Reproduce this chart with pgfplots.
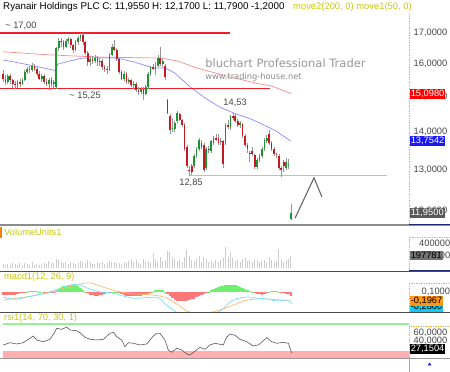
\documentclass[border=0pt]{standalone}
\usepackage{pgfplots}
\pgfplotsset{compat=1.18}
\usepackage{pgfplotstable}
\usepackage{fontspec}
\setmainfont{Liberation Sans}
\newfontfamily\wmfont{DejaVu Sans}
\definecolor{cred}{RGB}{200,25,35}
\definecolor{cgreen}{RGB}{25,150,45}
\definecolor{wick}{RGB}{150,150,150}
\definecolor{olv}{RGB}{200,200,20}
\definecolor{maone}{RGB}{140,140,255}
\definecolor{matwo}{RGB}{250,140,140}
\definecolor{supp}{RGB}{240,30,40}
\definecolor{histg}{RGB}{110,240,110}
\definecolor{histr}{RGB}{255,120,120}
\definecolor{macdc}{RGB}{110,225,250}
\definecolor{macdo}{RGB}{255,185,110}
\definecolor{dots}{RGB}{240,180,60}
\definecolor{lbl}{RGB}{70,70,70}
\definecolor{rsig}{RGB}{150,240,150}
\definecolor{rsip}{RGB}{255,175,175}
\definecolor{boxblue}{RGB}{25,25,240}
\definecolor{boxorange}{RGB}{255,150,20}
\definecolor{boxcyan}{RGB}{20,200,240}
\definecolor{navy}{RGB}{30,40,120}
\newcommand{\lf}{\fontsize{9.3bp}{10bp}\selectfont}
\tikzset{tl/.style={text=lbl, anchor=west, inner sep=1bp, font=\lf}}

\pgfplotstableread{
k o h l c v m
0 15.70 15.80 15.45 15.55 60000 -0.07
1 15.55 15.65 15.35 15.45 45000 -0.08
2 15.45 15.70 15.40 15.62 70000 -0.08
3 15.62 15.68 15.40 15.50 55000 -0.07
4 15.50 15.55 15.28 15.40 80000 -0.07
5 15.40 15.48 15.25 15.35 65000 -0.06
6 15.35 15.52 15.27 15.45 40000 -0.05
7 15.45 15.55 15.30 15.40 85000 -0.03
8 15.40 15.58 15.35 15.52 50000 -0.02
9 15.52 15.80 15.48 15.75 75000 -0.01
10 15.75 15.92 15.70 15.85 60000 0.01
11 15.85 15.95 15.72 15.80 45000 0.03
12 15.80 16.02 15.75 15.95 90000 0.04
13 15.95 16.00 15.78 15.85 55000 0.04
14 15.85 15.90 15.62 15.70 70000 0.03
15 15.70 15.78 15.50 15.55 40000 0.02
16 15.55 15.70 15.45 15.62 65000 0.00
17 15.62 15.68 15.38 15.45 80000 -0.02
18 15.45 15.55 15.32 15.40 60000 -0.03
19 15.40 15.58 15.22 15.50 110000 -0.03
20 15.50 15.60 15.30 15.38 75000 -0.02
21 15.38 15.52 15.25 15.45 85000 -0.01
22 15.30 16.55 15.25 16.50 150000 0.04
23 16.50 16.85 16.40 16.75 120000 0.08
24 16.75 16.85 16.55 16.70 95000 0.12
25 16.70 16.78 16.45 16.55 80000 0.15
26 16.55 16.80 16.50 16.75 100000 0.17
27 16.75 16.88 16.65 16.80 70000 0.19
28 16.80 16.85 16.52 16.60 90000 0.19
29 16.60 16.65 16.35 16.45 85000 0.19
30 16.45 16.78 16.40 16.70 60000 0.18
31 16.70 16.90 16.62 16.85 75000 0.15
32 16.85 17.02 16.75 16.95 110000 0.11
33 16.95 17.00 16.60 16.70 95000 0.07
34 16.70 16.75 16.30 16.35 80000 0.02
35 16.35 16.40 15.95 16.05 120000 -0.03
36 16.05 16.25 15.95 16.15 90000 -0.06
37 16.15 16.25 16.00 16.10 70000 -0.08
38 16.10 16.28 16.02 16.20 60000 -0.09
39 16.20 16.25 15.95 16.05 85000 -0.09
40 16.05 16.20 15.95 16.10 75000 -0.08
41 16.10 16.15 15.82 15.90 95000 -0.07
42 15.90 15.98 15.75 15.85 70000 -0.05
43 15.85 15.95 15.70 15.80 80000 -0.03
44 15.80 16.35 15.78 16.30 110000 -0.01
45 16.30 16.65 16.25 16.55 90000 0.01
46 16.55 16.78 16.40 16.45 100000 0.02
47 16.45 16.50 16.10 16.15 75000 0.01
48 16.15 16.20 15.70 15.75 85000 -0.02
49 15.75 15.80 15.50 15.55 65000 -0.05
50 15.55 15.78 15.48 15.70 95000 -0.07
51 15.70 15.75 15.40 15.45 80000 -0.09
52 15.45 15.58 15.38 15.50 110000 -0.10
53 15.50 15.55 15.30 15.35 140000 -0.10
54 15.35 15.48 15.25 15.40 90000 -0.10
55 15.40 15.45 15.15 15.20 120000 -0.10
56 15.20 15.30 15.05 15.15 85000 -0.09
57 15.15 15.30 15.08 15.25 70000 -0.09
58 15.25 15.30 14.92 15.10 150000 -0.08
59 15.10 15.35 15.05 15.30 100000 -0.06
60 15.30 15.75 15.25 15.70 110000 -0.04
61 15.70 15.95 15.62 15.90 90000 -0.02
62 15.90 16.00 15.80 15.85 240000 0.02
63 15.85 16.05 15.65 15.95 120000 0.05
64 15.95 16.28 15.90 16.20 100000 0.07
65 16.20 16.55 15.95 16.00 180000 0.07
66 16.00 16.20 15.90 16.10 110000 0.05
67 15.95 16.00 15.50 15.60 130000 0.02
68 14.92 14.95 14.50 14.55 280000 -0.05
69 14.45 14.50 13.95 14.05 250000 -0.10
70 14.10 14.40 14.00 14.12 180000 -0.15
71 14.10 14.30 14.00 14.25 140000 -0.19
72 14.30 14.60 14.25 14.55 110000 -0.21
73 14.50 14.55 14.30 14.35 120000 -0.22
74 14.35 14.38 14.15 14.20 90000 -0.22
75 14.20 14.25 13.50 13.55 180000 -0.22
76 13.60 13.65 13.05 13.10 290000 -0.21
77 13.00 13.10 12.85 12.98 200000 -0.20
78 13.10 13.15 12.88 12.95 130000 -0.18
79 13.10 13.40 13.05 13.35 110000 -0.16
80 13.35 13.60 13.30 13.55 150000 -0.13
81 13.55 13.85 13.50 13.80 200000 -0.10
82 13.70 13.78 13.55 13.60 100000 -0.07
83 13.65 13.70 12.95 13.00 170000 -0.04
84 13.05 13.60 13.00 13.55 140000 -0.01
85 13.55 13.62 13.45 13.52 90000 0.02
86 13.50 13.80 13.45 13.75 110000 0.05
87 13.70 13.90 13.65 13.85 80000 0.08
88 13.85 13.95 13.75 13.80 120000 0.11
89 13.85 13.95 13.65 13.70 100000 0.13
90 13.72 13.85 13.65 13.75 130000 0.15
91 13.75 13.80 13.05 13.15 160000 0.17
92 13.70 14.25 13.65 14.20 330000 0.18
93 14.20 14.35 14.10 14.15 170000 0.19
94 14.15 14.48 14.05 14.45 250000 0.19
95 14.45 14.53 14.35 14.40 160000 0.19
96 14.45 14.50 14.25 14.30 110000 0.18
97 14.30 14.38 14.15 14.20 130000 0.16
98 14.20 14.30 14.12 14.25 90000 0.14
99 14.22 14.25 13.85 13.90 150000 0.11
100 13.90 13.95 13.60 13.65 160000 0.09
101 13.65 13.70 13.45 13.55 110000 0.06
102 13.45 13.50 13.20 13.40 130000 0.04
103 13.50 13.60 13.35 13.40 100000 0.01
104 13.38 13.40 13.02 13.08 140000 -0.02
105 13.08 13.30 13.02 13.25 120000 -0.04
106 13.25 13.40 13.20 13.35 90000 -0.05
107 13.35 13.60 13.30 13.55 110000 -0.06
108 13.55 13.85 13.50 13.80 130000 -0.05
109 13.75 13.92 13.70 13.85 100000 -0.02
110 13.95 14.05 13.65 13.70 170000 0.02
111 13.70 13.75 13.50 13.55 120000 0.04
112 13.55 13.60 13.35 13.40 90000 0.04
113 13.40 13.45 13.30 13.38 110000 0.03
114 13.35 13.40 13.00 13.05 300000 0.01
115 13.05 13.10 12.82 13.00 140000 -0.03
116 13.20 13.25 12.95 13.10 100000 -0.03
117 13.05 13.30 13.00 13.20 120000 -0.04
118 13.10 13.28 13.02 13.155 150000 -0.05
119 11.80 12.17 11.79 11.955 197781 -0.10
}\ohlc

\pgfplotsset{
  panel/.style={scale only axis, width=409bp, xmin=-1.24, xmax=167.77,
    anchor=south west, clip mode=individual,
    axis x line=none, axis y line*=right,
    y axis line style={draw=none},
    ytick style={draw=none},
    tick label style={font=\lf, text=lbl}},
  wickbar/.style={draw=none, mark=none, forget plot,
    error bars/.cd, y dir=plus, y explicit, error mark=none,
    error bar style={draw=#1}},
}

\begin{document}
\begin{tikzpicture}
\useasboundingbox (0,0) rectangle (450bp,372bp);
\fill[white] (0,0) rectangle (450bp,372bp);

% ---------------- price panel ----------------
\begin{axis}[panel, at={(0bp,148bp)}, height=212bp,
  ymode=log, ymin=11.694, ymax=17.72, ytick=\empty,
  y axis line style={draw=dots, densely dotted, line width=0.7bp}]
\addplot[matwo, line width=0.7bp, mark=none] coordinates {
(0,16.39) (19.4,16.29) (40,16.22) (65,16.19) (72,16.10) (80,15.88) (93.8,15.60) (106,15.39) (111,15.33) (119,15.098)};
\addplot[maone, line width=0.7bp, mark=none] coordinates {
(0,16.13) (7,16.03) (15.3,15.90) (21.5,15.80) (22.7,16.00) (27.7,16.10) (33,16.19) (40,16.20) (47,16.19) (54.5,16.06) (62,15.88) (67,15.88) (71,15.72) (77.3,15.30) (83.5,14.97) (89.7,14.70) (95.9,14.52) (102,14.38) (107.4,14.21) (112.4,14.05) (119,13.754)};
\addplot[supp, line width=1.6bp, mark=none] coordinates {(-1.24,17.0) (93.8,17.0)};
\addplot[supp, line width=1.6bp, mark=none] coordinates {(-1.24,15.25) (110.3,15.25)};
\addplot[black!25, line width=0.8bp, mark=none] coordinates {(77.3,12.85) (158.7,12.85)};
\addplot[wickbar={wick}, error bar style={line width=0.7bp}]
  table[x=k, y=l, y error expr={\thisrow{h}-\thisrow{l}}] {\ohlc};
\addplot[wickbar={cgreen}, error bar style={line width=1.7bp}]
  table[x=k, y expr={min(\thisrow{o},\thisrow{c})}, y error expr={max(\thisrow{c}-\thisrow{o},0)}] {\ohlc};
\addplot[wickbar={cred}, error bar style={line width=1.7bp}]
  table[x=k, y expr={min(\thisrow{o},\thisrow{c})}, y error expr={max(\thisrow{o}-\thisrow{c},0)}] {\ohlc};
\addplot[black!60, line width=1.1bp, mark=none] coordinates {(120.7,11.83) (128.5,12.80) (131.8,12.33)};
\node[text=lbl, font=\lf] at (axis cs:7.4,17.24) {\textasciitilde\ 17,00};
\node[text=lbl, font=\lf] at (axis cs:33.9,15.03) {\textasciitilde\ 15,25};
\node[text=lbl, font=\lf] at (axis cs:95.9,14.83) {14,53};
\node[text=lbl, font=\lf] at (axis cs:77.7,12.67) {12,85};
\node[text=black!40, anchor=west, font=\wmfont\fontsize{11.5bp}{13bp}\selectfont, inner sep=0pt] at (axis cs:83.5,16.03) {bluchart Professional Trader};
\node[text=black!45, anchor=west, font=\wmfont\fontsize{8.3bp}{9bp}\selectfont, inner sep=0pt] at (axis cs:83.5,15.60) {www.trading-house.net};
\node[tl] at (axis cs:169.2,17) {17,0000};
\node[tl] at (axis cs:169.2,16) {16,0000};
\node[tl] at (axis cs:169.2,15) {15,0000};
\node[tl] at (axis cs:169.2,14) {14,0000};
\node[tl] at (axis cs:169.2,13) {13,0000};
\node[tl] at (axis cs:169.2,11.99) {12,0000};
\node[fill=red, text=white, anchor=west, inner sep=1bp, font=\lf] at (axis cs:168.0,15.098) {15,0980};
\node[fill=boxblue, text=white, anchor=west, inner sep=1bp, font=\lf] at (axis cs:168.0,13.754) {13,7542};
\node[fill=black!65, text=white, anchor=west, inner sep=1bp, font=\lf] at (axis cs:168.0,11.955) {11,9500};
\end{axis}

% ---------------- volume panel ----------------
\begin{axis}[panel, at={(0bp,101bp)}, height=45bp,
  ymin=-48000, ymax=672000, ytick=\empty]
\addplot[ycomb, draw=black!20, line width=1bp, mark=none] table[x=k, y=v] {\ohlc};
\node[tl] at (axis cs:171.5,400000) {400000};
\node[tl] at (axis cs:171.5,200000) {200000};
\node[fill=black!55, text=black, anchor=west, inner sep=1bp, font=\lf] at (axis cs:168.0,197781) {197781};
\end{axis}

% ---------------- macd panel ----------------
\begin{axis}[panel, at={(0bp,59bp)}, height=41bp,
  ymin=-0.53, ymax=0.52, ytick=\empty]
\addplot[ycomb, draw=histg, line width=2.45bp, mark=none] table[x=k, y expr={max(\thisrow{m},0)}] {\ohlc};
\addplot[ycomb, draw=histr, line width=2.45bp, mark=none] table[x=k, y expr={min(\thisrow{m},0)}] {\ohlc};
\addplot[macdo, line width=0.7bp, mark=none, smooth] coordinates {
(0,-0.20) (12.4,-0.09) (22.3,0.06) (34.7,0.24) (40,0.16) (47,0.03) (53.7,-0.04) (62,-0.07) (67.8,-0.15) (73,-0.35) (76,-0.48) (81.4,-0.56) (89.7,-0.45) (95,-0.33) (100.8,-0.20) (107.4,-0.17) (115.7,-0.20) (119.4,-0.1967)};
\addplot[macdc, line width=0.7bp, mark=none, smooth] coordinates {
(0,-0.12) (5,-0.18) (10,-0.12) (15,-0.06) (20,0.00) (23.6,0.11) (30.6,0.21) (34.7,0.11) (40,0.01) (45.5,-0.02) (53.7,-0.15) (63.6,-0.13) (67,-0.30) (70.2,-0.45) (73,-0.55) (78,-0.62) (84,-0.60) (89.7,-0.48) (95,-0.20) (100.8,-0.12) (105,-0.15) (109,-0.17) (113,-0.22) (117.4,-0.20) (119.4,-0.30)};
\node[fill=boxcyan, text=black, anchor=west, inner sep=1bp, font=\lf] at (axis cs:168.0,-0.38) {-0,2800};
\node[tl] at (axis cs:172.5,0.01) {0,1000};
\node[fill=boxorange, text=black, anchor=west, inner sep=1bp, font=\lf] at (axis cs:168.0,-0.22) {-0,1967};
\end{axis}

% ---------------- rsi panel ----------------
\begin{axis}[panel, at={(0bp,14bp)}, height=44bp,
  ymin=19.6, ymax=84.8, ytick=\empty,
  axis x line*=bottom, x axis line style={draw=none}, xtick style={draw=none},
  xtick={1.24,9.1,31,52.9,75.2,98.3,119.4,143},
  xticklabel style={yshift=-1.5bp},
  xticklabels={\textquotesingle 18,Mai,Jun,Jul,Aug,Sep,Okt,Nov}]
\addplot[draw=none, fill=rsip, mark=none] coordinates {(0,30) (167.77,30)} \closedcycle;
\addplot[rsig, line width=1.5bp, mark=none] coordinates {(0,70) (167.77,70)};
\addplot[black!65, line width=0.6bp, mark=none] coordinates {
(0.1,38.9) (2.9,42.3) (5.6,40.4) (8.4,42.3) (11.2,48.8) (12.5,52.2) (13.9,46.3) (16.7,43.8) (19.4,47.3) (21.5,58.6) (22.2,63.6) (24.2,62.1) (26.3,65.1) (27.7,61.1) (30.4,60.1) (31.8,57.1) (33.9,50.3) (36,47.3) (38.7,46.3) (41.5,47.3) (44.2,56.2) (45.6,57.6) (47,51.2) (49,46.3) (50.4,36.4) (51.8,42.3) (53.9,41.4) (56.6,38.9) (59.4,40.4) (62.1,52.2) (63.5,56.2) (64.9,56.2) (66.9,46.3) (68.3,31.5) (69.7,28.0) (71.8,34.0) (73.8,31.5) (75.9,25.6) (77.3,24.1) (80,31.5) (81.4,35.5) (83.5,32.5) (85.5,38.9) (87.6,41.4) (89.7,39.9) (91,38.9) (92.4,50.3) (93.8,55.2) (95.9,53.2) (97.9,47.3) (100.7,43.8) (103.4,37.4) (105.5,38.9) (107.6,45.3) (109,49.8) (111,43.8) (113.1,41.4) (115.8,42.8) (117.9,41.4) (119.3,27.15)};
\node[tl] at (axis cs:169.2,56.5) {60,0000};
\node[tl] at (axis cs:169.2,45.0) {40,0000};
\node[fill=black, text=white, anchor=west, inner sep=1bp, font=\lf] at (axis cs:168.0,33.0) {27,1504};
\end{axis}

% frames
\draw[black!45, line width=1.4bp] (0,147bp) -- (450bp,147bp);
\draw[navy, line width=0.6bp] (409bp,148bp) -- (450bp,148bp);
\draw[black!70, line width=0.8bp] (0,101bp) -- (450bp,101bp);
\draw[navy, line width=0.6bp] (409bp,102bp) -- (450bp,102bp);
\draw[black!70, line width=0.7bp] (0,59.3bp) -- (450bp,59.3bp);
\draw[black!40, line width=1bp] (0,13bp) -- (450bp,13bp);
\draw[dots, densely dotted, line width=0.7bp] (409bp,102bp) |- (450bp,135bp);
\draw[dots, densely dotted, line width=0.7bp] (409bp,60bp) |- (450bp,89bp);
\draw[dots, densely dotted, line width=0.7bp] (409bp,14bp) |- (450bp,46bp);
\draw[black!35, line width=0.6bp] (409bp,0bp) -- (409bp,13bp);
\fill[boxblue] (427.5bp,6.5bp) -- (431.5bp,6.5bp) -- (429.5bp,9.5bp) -- cycle;
\fill[orange] (0,134bp) rectangle (1.5bp,145bp);
\node[anchor=west, inner sep=0pt, font=\fontsize{9.8bp}{11bp}\selectfont] at (3bp,365bp)
  {Ryanair Holdings PLC C: 11,9550 H: 12,1700 L: 11,7900 -1,2000};
\node[anchor=west, inner sep=0pt, font=\fontsize{9.4bp}{11bp}\selectfont, text=olv] at (293bp,365bp)
  {move2(200, 0) move1(50, 0)};
\node[anchor=west, inner sep=0pt, font=\lf, text=olv] at (4bp,140bp) {VolumeUnits1};
\node[anchor=west, inner sep=0pt, font=\lf, text=olv] at (4bp,95bp) {macd1(12, 26, 9)};
\node[anchor=west, inner sep=0pt, font=\lf, text=olv] at (4bp,54.3bp) {rsi1(14, 70, 30, 1)};
\end{tikzpicture}
\end{document}
